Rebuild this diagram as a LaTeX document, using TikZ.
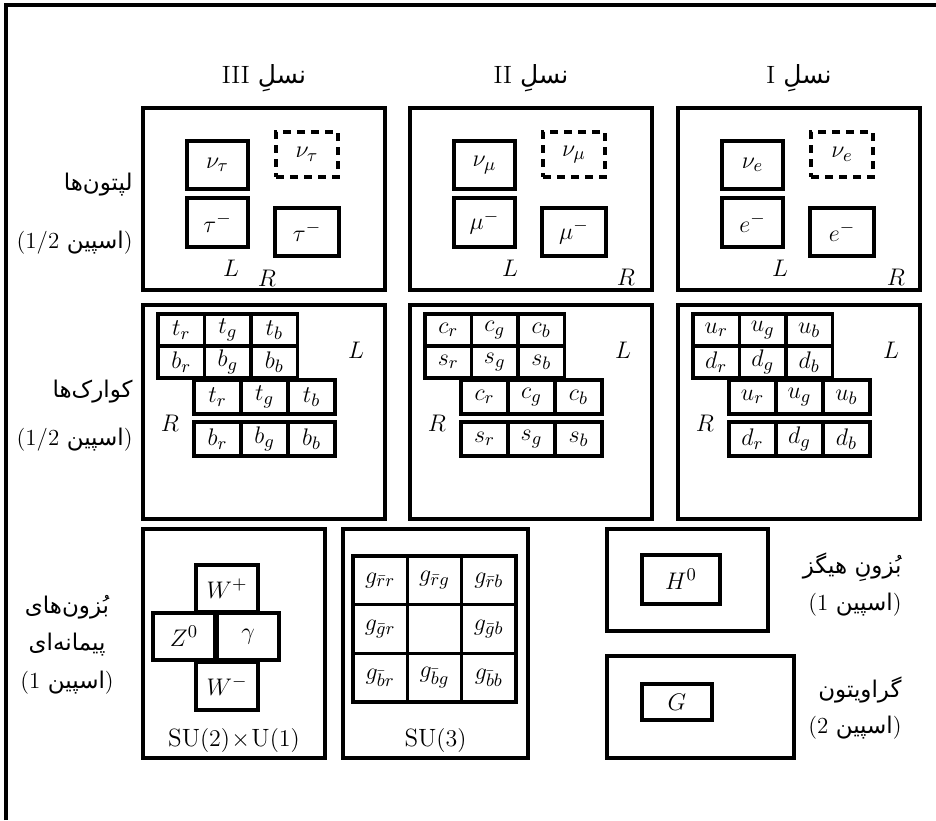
\documentclass[tikz,border=0pt]{standalone}
\usepackage{amsmath}
\usepackage{fontspec}
\usepackage{tikz}
\newfontfamily\persfont[Script=Arabic]{DejaVu Sans}
\TeXXeTstate=1
\newcommand{\prs}[1]{{\persfont\beginR #1\endR}}

\begin{document}
\begin{tikzpicture}[x=0.5pt, y=-0.5pt,
    every node/.style={font=\fontsize{12.5}{15}\selectfont, inner sep=0pt},
    frame line/.style={line width=1.6pt, line join=miter},
    big box/.style={draw, line width=1.7pt},
    lep box/.style={draw, line width=1.8pt, minimum width=30.5pt, minimum height=24pt},
    sterile/.style={dash pattern=on 4pt off 3pt, minimum width=31pt, minimum height=22.5pt},
    quark cell/.style={draw, line width=1.8pt, minimum width=23.25pt, minimum height=16pt},
    quark cell R/.style={draw, line width=1.8pt, minimum width=23.5pt, minimum height=17pt},
    boson cell/.style={draw, line width=1.8pt, minimum width=31pt, minimum height=23.5pt},
    gluon cell/.style={draw, line width=1.8pt, minimum width=27.15pt, minimum height=24.35pt},
    fa label/.style={font=\fontsize{11.5}{14}\selectfont}
  ]
  \useasboundingbox (0,0) rectangle (936,820);
  % frame
  \draw[frame line] (6,820) -- (6,5) -- (936,5);

  % row titles
  \node[fa label, anchor=east] (leptitle) at (133,185) {\prs{لپتون^^^^200cها}};
  \node[fa label, anchor=east] (lepspin) at (133,243) {(1/2 \prs{اسپین})};
  \node[fa label, anchor=east] (qktitle) at (133,392) {\prs{کوارک^^^^200cها}};
  \node[fa label, anchor=east] (qkspin) at (133,440) {(1/2 \prs{اسپین})};
  \node[fa label] (gbtitleA) at (67,607) {\prs{بُزون^^^^200cهای}};
  \node[fa label] (gbtitleB) at (67,645) {\prs{پیمانه^^^^200cای}};
  \node[fa label] (gbspin) at (67,683) {(1 \prs{اسپین})};

  % three generations
  \foreach \gen/\x/\neut/\lep/\qu/\qd/\lx/\rx/\ry in {%
      III/143/\nu_\tau/\tau^-/t/b/88/124/278,
      II/410/\nu_\mu/\mu^-/c/s/100/216/277,
      I/678/\nu_e/e^-/u/d/102/218/277}{
    \node (head\gen) at (\x+121,78) {\gen\ \prs{نسلِ}};
    % leptons
    \node[big box, minimum width=121pt, minimum height=91pt] (lep\gen) at (\x+121,199) {};
    \node[lep box] (nuL\gen) at (\x+74.5,165) {$\neut$};
    \node[lep box, sterile] (nuR\gen) at (\x+164,154.5) {$\neut$};
    \node[lep box, minimum height=24.5pt] (chL\gen) at (\x+74.5,222.5) {$\lep$};
    \node[lep box, minimum width=32pt] (chR\gen) at (\x+164,232) {$\lep$};
    \node (lepL\gen) at (\x+\lx,268) {$L$};
    \node (lepR\gen) at (\x+\rx,\ry) {$R$};
    % quarks
    \node[big box, minimum width=121pt, minimum height=107pt] (qk\gen) at (\x+121,412) {};
    \foreach \c [count=\k from 0] in {r,g,b}{
      \node[quark cell] (\qu L\c) at (\x+38.25+46.5*\k,330) {$\qu_\c$};
      \node[quark cell] (\qd L\c) at (\x+38.25+46.5*\k,362) {$\qd_\c$};
      \node[quark cell R] (\qu R\c) at (\x+74.5+47*\k,397) {$\qu_\c$};
      \node[quark cell R] (\qd R\c) at (\x+74.5+47*\k,439) {$\qd_\c$};
    }
    \node (qkL\gen) at (\x+213,350) {$L$};
    \node (qkR\gen) at (\x+27,423) {$R$};
  }

  % electroweak bosons
  \node[big box, minimum width=91pt, minimum height=114.5pt] (ewbox) at (234,643.5) {};
  \node[boson cell] (Wp) at (227,588.5) {$W^+$};
  \node[boson cell] (Z) at (184,636.5) {$Z^0$};
  \node[boson cell] (photon) at (248,636.5) {$\gamma$};
  \node[boson cell, minimum height=24pt] (Wm) at (227,686) {$W^-$};
  \node (ewname) at (234,740) {$\mathrm{SU}(2)\!\times\!\mathrm{U}(1)$};

  % gluons
  \node[big box, minimum width=92.5pt, minimum height=114.5pt] (glbox) at (435.5,643.5) {};
  \foreach \a [count=\r from 0] in {r,g,b}
    \foreach \b [count=\c from 0] in {r,g,b}
      \node[gluon cell] (g\a\b) at (380.2+54.3*\c,580.3+48.7*\r)
        {\ifnum\r\c=11 \else$g_{\bar\a\b}$\fi};
  \node (glname) at (435.5,740) {$\mathrm{SU}(3)$};

  % higgs and graviton
  \node[big box, minimum width=80.5pt, minimum height=51pt] (hbox) at (687.5,580) {};
  \node[draw, line width=1.8pt, minimum width=39pt, minimum height=24.5pt] (H) at (681,579.5) {$H^0$};
  \node[fa label, anchor=east] (htitle) at (902,567) {\prs{بُزونِ هیگز}};
  \node[fa label, anchor=east] (hspin) at (902,605) {(1 \prs{اسپین})};
  \node[big box, minimum width=93.5pt, minimum height=51pt] (gbox) at (700.5,707) {};
  \node[draw, line width=1.8pt, minimum width=35pt, minimum height=18pt] (G) at (677,702) {$G$};
  \node[fa label, anchor=east] (gtitle) at (902,690) {\prs{گراویتون}};
  \node[fa label, anchor=east] (gspin) at (902,728) {(2 \prs{اسپین})};
\end{tikzpicture}
\end{document}
